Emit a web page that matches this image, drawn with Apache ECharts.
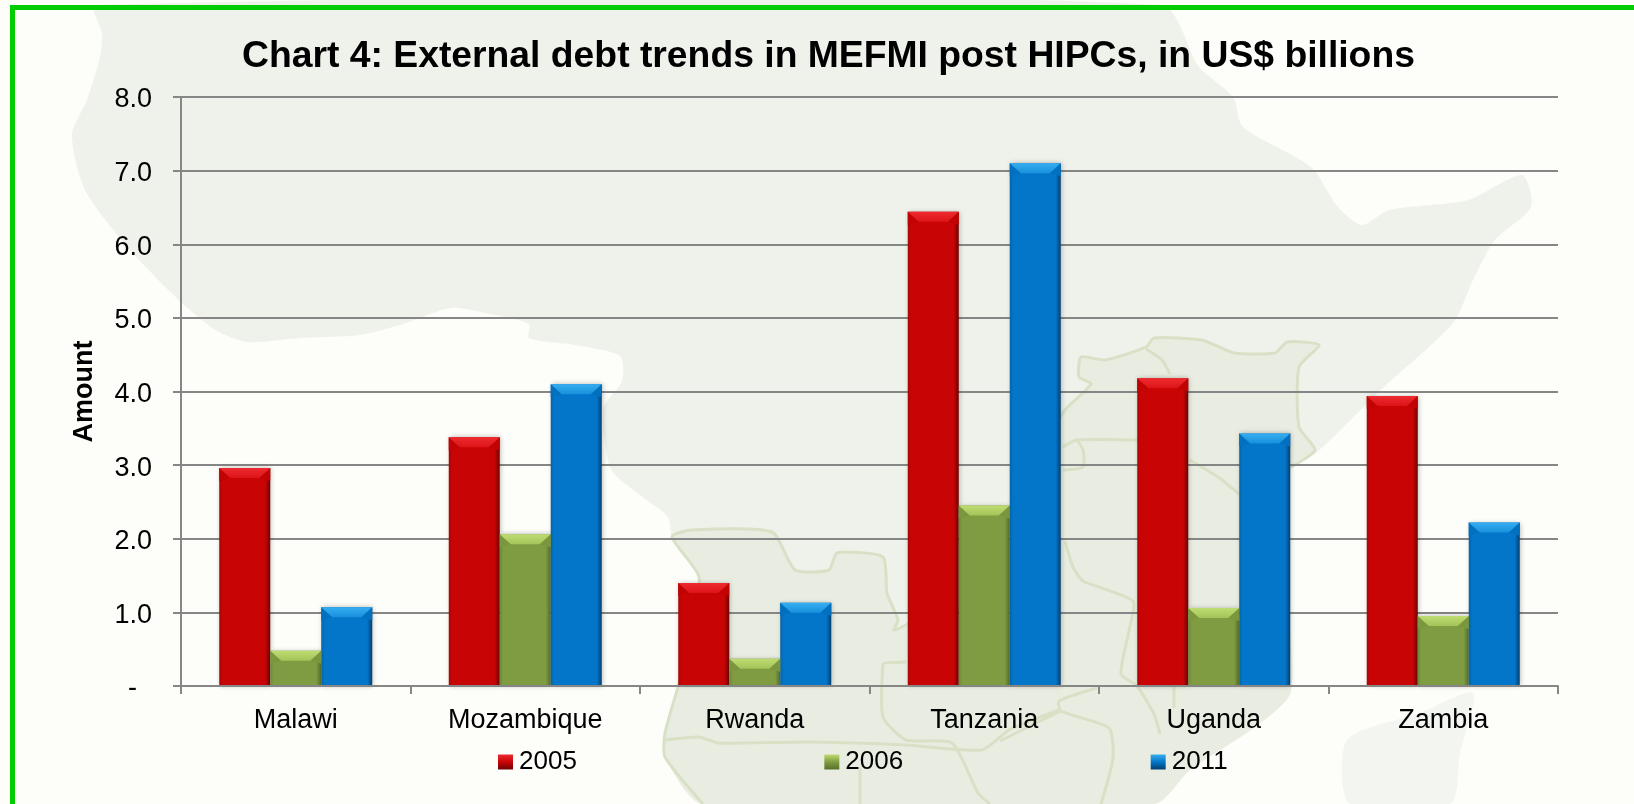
<!DOCTYPE html>
<html><head><meta charset="utf-8">
<script src="https://cdn.jsdelivr.net/npm/echarts@6/dist/echarts.min.js"></script>
<style>html,body{margin:0;padding:0;background:#fdfdfa}#c{width:1634px;height:804px}</style>
</head><body><div id="c"></div>
<script>
const categories = ['Malawi','Mozambique','Rwanda','Tanzania','Uganda','Zambia'];
const years = ['2005','2006','2011'];
const values2005 = [2.96,3.38,1.40,6.44,4.18,3.94];
const values2006 = [0.48,2.06,0.37,2.45,1.06,0.95];
const values2011 = [1.07,4.10,1.13,7.10,3.43,2.22];
const chartTitle = 'Chart 4: External debt trends in MEFMI post HIPCs, in US$ billions';
const yAxisName = 'Amount';
const seriesValues = [values2005, values2006, values2011];

const FONT = '"Liberation Sans", Arial, sans-serif';
const palette = [
  {body:'#c90404', edgeL:'#a80606', edgeR:'#6e0202', top:'#ee2b30', topB:'#dc1418', side:'#c00404'},
  {body:'#7f9c42', edgeL:'#6c8736', edgeR:'#56702a', top:'#bfdc72', topB:'#a3c358', side:'#7a963e'},
  {body:'#0376c9', edgeL:'#0364a8', edgeR:'#02406f', top:'#36aef0', topB:'#1890dc', side:'#0370bf'}
];
function hGrad(p){return {type:'linear',x:0,y:0,x2:1,y2:0,colorStops:[
  {offset:0,color:p.edgeL},{offset:.07,color:p.body},{offset:.9,color:p.body},{offset:1,color:p.edgeR}]};}
function vGrad(p){return {type:'linear',x:0,y:0,x2:0,y2:1,colorStops:[
  {offset:0,color:p.top},{offset:.5,color:p.body},{offset:1,color:p.edgeR}]};}

// decorative backdrop: the faint map of Africa behind the chart
const landLight = [[95,5],[102,33],[100,57],[87,100],[72,135],[85,190],[130,250],[182,303],[217,331],[247,342],[300,338],[360,335],[400,325],[451,308],[490,314],[529,324],[529,338],[575,345],[620,356],[622,381],[603,409],[611,469],[640,495],[668,517],[672,537],[699,577],[690,640],[678,687],[665,733],[665,757],[703,804],[1154,804],[1190,770],[1259,724],[1291,691],[1285,560],[1291,467],[1315,454],[1384,387],[1453,323],[1473,280],[1495,240],[1531,207],[1522,175],[1468,200],[1389,210],[1362,225],[1338,207],[1311,167],[1243,127],[1233,97],[1199,67],[1161,5]];
const madagascar = [[1473,693],[1420,713],[1347,740],[1350,804],[1450,804],[1460,753]];
const outlineWest = [[703,804],[665,757],[665,733],[678,687],[690,640],[699,577],[672,537],[691,530],[772,532],[795,570],[829,570],[837,553],[883,557],[887,593],[898,620],[894,630],[912,622]];
const outlineNorth = [[1040,450],[1065,410],[1091,384],[1079,377],[1081,357],[1105,360],[1146,347],[1154,338],[1202,340],[1234,353],[1275,353],[1287,342],[1319,345],[1299,367],[1299,427],[1315,450],[1291,467]];
const landDark = outlineWest.concat([[965,560],[1011,520]],outlineNorth,[[1275,520],[1272,600],[1291,691],[1259,724],[1190,770],[1154,804]]);
const borders = [
  outlineWest, outlineNorth,
  [[1146,349],[1162,360],[1170,374]],
  [[1190,460],[1218,477],[1239,494]],
  [[1063,447],[1077,440],[1137,440]],
  [[1077,440],[1083,450],[1083,467],[1063,470]],
  [[1065,541],[1073,567],[1083,581],[1133,601],[1129,631],[1121,674],[1137,686],[1154,714],[1160,734]],
  [[1174,686],[1174,708]],
  [[1097,688],[1059,701],[1061,711],[1109,728],[1113,758],[1101,804]],
  [[1000,741],[1040,721],[1061,711]],
  [[883,663],[906,662]],
  [[883,663],[883,717],[906,740],[952,743],[978,793],[990,804]],
  [[665,740],[699,737],[718,743],[806,742],[906,745],[982,750],[1009,730],[1059,710]],
  [[860,767],[860,804]]
];
function poly(points,fill){return {type:'polygon',silent:true,z:-10,shape:{points,smooth:0.25},style:{fill:fill}};}
const backdrop = [
  poly(landLight,'#eff2ea'),
  poly(madagascar,'#f3f5f0'),
  poly(landDark,'#e9ede1')
].concat(borders.map(b=>({type:'polyline',silent:true,z:-9,shape:{points:b,smooth:0.2},
  style:{fill:null,stroke:'#d8e0c6',lineWidth:3}})));
backdrop.push(
  {type:'rect',silent:true,z:-1,shape:{x:10,y:5,width:1624,height:5},style:{fill:'#00cc00'}},
  {type:'rect',silent:true,z:-1,shape:{x:10,y:5,width:5,height:799},style:{fill:'#00cc00'}}
);

const barWidthShare = 2/9;
const bars = years.map((y,i)=>({
  name:y,type:'bar',data:seriesValues[i],barGap:0,barCategoryGap:'33.34%',z:2,
  itemStyle:{color:hGrad(palette[i]),shadowBlur:5,shadowColor:'rgba(0,0,0,.28)',shadowOffsetX:1}
}));
const bevels = years.map((y,i)=>({
  type:'custom',silent:true,z:3,legendHoverLink:false,tooltip:{show:false},
  data:seriesValues[i].map((v,k)=>[k,v]),encode:{x:0,y:1},
  renderItem(params,api){
    const band=api.size([1,0])[0], w=band*barWidthShare;
    const c=api.coord([api.value(0),api.value(1)]);
    const base=api.coord([api.value(0),0])[1];
    const x0=c[0]+(i-1.5)*w, x1=x0+w, t=c[1], b=t+Math.min(10,(base-t)/2), ins=11;
    const p=palette[i];
    return {type:'group',silent:true,children:[
      {type:'polygon',shape:{points:[[x0,t],[x0+ins,b],[x0,b+3]]},style:{fill:p.side}},
      {type:'polygon',shape:{points:[[x1,t],[x1-ins,b],[x1,b+3]]},style:{fill:p.side}},
      {type:'polygon',shape:{points:[[x0,t],[x1,t],[x1-ins,b],[x0+ins,b]]},
       style:{fill:{type:'linear',x:0,y:0,x2:0,y2:1,colorStops:[{offset:0,color:p.top},{offset:1,color:p.topB}]}}}
    ]};
  }
}));

const chart = echarts.init(document.getElementById('c'),null,{renderer:'canvas'});
chart.setOption({
  backgroundColor:'#fdfdfa',
  animation:false,
  textStyle:{fontFamily:FONT},
  graphic:{elements:backdrop},
  title:{text:chartTitle,left:242,top:38,padding:0,
    textStyle:{fontFamily:FONT,fontSize:37.3,fontWeight:'bold',color:'#000'}},
  legend:{data:years.map((y,i)=>({name:y,itemStyle:{color:vGrad(palette[i])}})),
    left:498,top:749,padding:0,icon:'rect',itemWidth:15,itemHeight:15,itemGap:247.5,selectedMode:false,
    textStyle:{fontFamily:FONT,fontSize:26,color:'#000',padding:[0,0,0,1]}},
  grid:{left:181,top:97,width:1377,height:589,containLabel:false},
  xAxis:{type:'category',data:categories,z:5,
    axisLine:{lineStyle:{color:'#868686',width:2}},
    axisTick:{show:true,length:8,alignWithLabel:false,lineStyle:{color:'#868686',width:2}},
    axisLabel:{fontFamily:FONT,fontSize:27,color:'#000',margin:21,interval:0},
    splitLine:{show:false}},
  yAxis:{type:'value',min:0,max:8,interval:1,
    name:yAxisName,nameLocation:'middle',nameGap:83,nameRotate:90,
    nameTextStyle:{fontFamily:FONT,fontSize:27,fontWeight:'bold',color:'#000'},
    axisLine:{show:true,lineStyle:{color:'#868686',width:2}},
    axisTick:{show:true,length:8,lineStyle:{color:'#868686',width:2}},
    axisLabel:{fontFamily:FONT,fontSize:27,color:'#000',margin:29,verticalAlign:'top',lineHeight:6,
      formatter:v=>v===0?'-  ':v.toFixed(1)},
    splitLine:{show:true,lineStyle:{color:'#868686',width:2}}},
  series:bars.concat(bevels)
});
</script></body></html>
